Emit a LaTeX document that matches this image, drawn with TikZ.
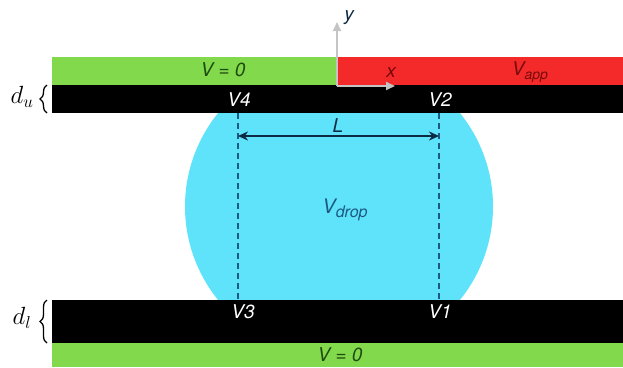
\documentclass[tikz,border=0pt]{standalone}
\usepackage{fontspec}
\setsansfont{TeX Gyre Heros}
\usetikzlibrary{arrows.meta,decorations.pathreplacing}
\definecolor{plgreen}{HTML}{82D94C}
\definecolor{plred}{HTML}{F42A2A}
\definecolor{dropc}{HTML}{5EE3FB}
\definecolor{dkgreen}{HTML}{1F4A10}
\definecolor{dkred}{HTML}{7A0A0A}
\definecolor{dkblue}{HTML}{1D5A80}
\definecolor{navy}{HTML}{0C2A44}
\definecolor{axgray}{HTML}{C4C4C4}
\tikzset{
  lbl/.style={font=\sffamily\itshape\fontsize{19}{22}\selectfont, inner sep=0pt},
  wlbl/.style={lbl, text=white},
  dashln/.style={dkblue, line width=1.7pt, dash pattern=on 6pt off 4pt},
  axis/.style={axgray, line width=1.8pt, -{Triangle[length=9pt,width=8pt]}},
  bracestyle/.style={decorate, decoration={brace, amplitude=7pt}, line width=1.3pt},
}
\begin{document}
\begin{tikzpicture}[x=1pt,y=-1pt]
\useasboundingbox (0,0) rectangle (623,367);
% drop
\begin{scope}
\clip (0,113) rectangle (623,300);
\fill[dropc] (339,206.5) ellipse [x radius=154, y radius=151];
\end{scope}
% plates
\fill[plgreen] (52,57) rectangle (338,85);
\fill[plred] (338,57) rectangle (623,85);
\fill[black] (52,85) rectangle (623,113);
\fill[black] (52,300) rectangle (623,343);
\fill[plgreen] (52,343) rectangle (623,367);
% coordinates
\coordinate (o) at (337,86);
\coordinate (yend) at (337,22);
\coordinate (xend) at (395,86);
\coordinate (t4) at (238,113);
\coordinate (b3) at (238,300);
\coordinate (t2) at (439,113);
\coordinate (b1) at (439,300);
\coordinate (la) at (238,136);
\coordinate (lb) at (439,136);
\coordinate (bu1) at (47,113);
\coordinate (bu2) at (47,85);
\coordinate (bl1) at (47,343);
\coordinate (bl2) at (47,300);
% axes
\draw[axis] (o) -- (yend);
\draw[axis] (o) -- (xend);
\node[lbl, text=navy] (ylab) at (349,18) {y};
\node[lbl, text=dkred] (xlab) at (391,73) {x};
% dashed lines
\draw[dashln] (t4) -- (b3);
\draw[dashln] (t2) -- (b1);
\draw[navy, line width=1.7pt, {Stealth[length=10pt,width=9pt]}-{Stealth[length=10pt,width=9pt]}] (la) -- (lb);
\node[lbl, text=navy] (Llab) at (338,126) {L};
\node[lbl, text=dkblue, font=\sffamily\itshape\fontsize{20}{23}\selectfont] (vdrop) at (345,210) {V\raisebox{-0.45ex}{\fontsize{16}{18}\selectfont drop}};
% plate labels
\node[lbl, text=dkgreen] (v0t) at (223,70) {V = 0};
\node[lbl, text=dkred] (vapp) at (530,72) {V\raisebox{-0.4ex}{\fontsize{14}{16}\selectfont app}};
\node[wlbl] (v4) at (239,100) {V4};
\node[wlbl] (v2) at (440,100) {V2};
\node[wlbl] (v3) at (243,312) {V3};
\node[wlbl] (v1) at (440,312) {V1};
\node[lbl, text=dkgreen] (v0b) at (340,355) {V = 0};
% braces
\draw[bracestyle] (bu1) -- (bu2);
\draw[bracestyle] (bl1) -- (bl2);
\node[font=\fontsize{26}{28}\selectfont, inner sep=0pt] (du) at (22,97) {$d_u$};
\node[font=\fontsize{26}{28}\selectfont, inner sep=0pt] (dl) at (22,318) {$d_l$};
\end{tikzpicture}
\end{document}
